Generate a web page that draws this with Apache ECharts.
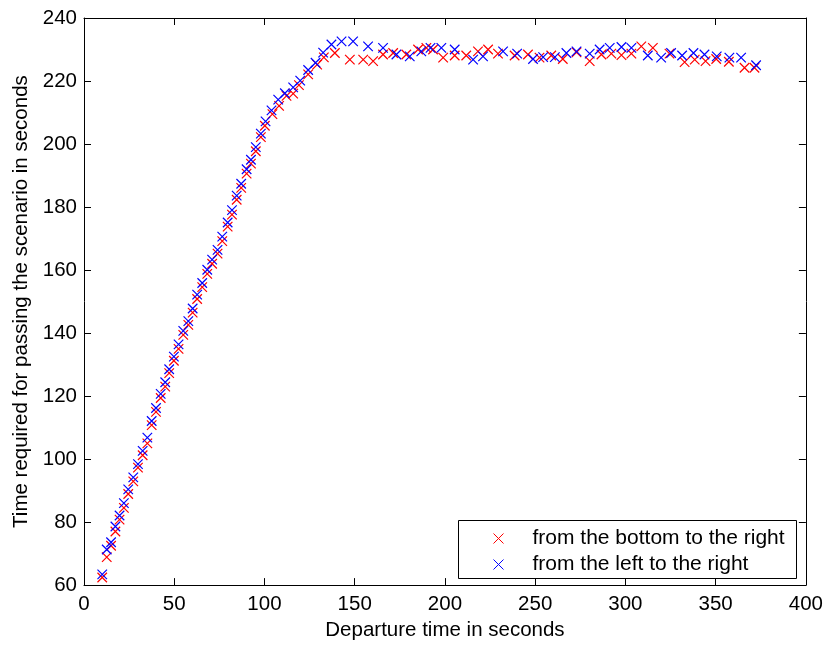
<!DOCTYPE html>
<html>
<head>
<meta charset="utf-8">
<script src="https://cdn.jsdelivr.net/npm/echarts@6/dist/echarts.min.js"></script>
<style>
html,body{margin:0;padding:0;background:#fff;}
#chart{width:826px;height:646px;}
</style>
</head>
<body>
<div id="chart"></div>
<script>
// ---- data ----
const seriesNames = ['from the bottom to the right', 'from the left to the right'];

const redX = [10.1,12.6,15.0,17.4,19.7,22.1,24.5,27.3,29.9,32.5,35.1,37.5,39.9,42.5,45.0,47.2,49.8,52.4,55.0,57.8,
  60.2,62.7,65.5,68.3,71.0,74.0,76.6,79.6,82.0,84.6,87.1,90.1,92.5,95.2,98.0,100.2,104.4,108.1,112.2,115.9,
  119.1,124.2,129.2,132.9,139.0,147.3,154.7,160.2,165.7,171.3,178.6,185.1,189.7,193.4,199.0,205.4,211.8,218.3,223.9,229.4,
  238.6,246.0,252.4,258.9,265.3,272.9,280.2,286.7,292.2,297.8,303.3,308.8,315.2,324.4,332.8,338.4,344.4,350.3,357.3,366.0,371.5];
const redY = [62.4,68.9,72.5,77.0,80.8,84.5,88.9,92.9,97.3,101.2,105.0,110.8,115.0,119.4,123.0,127.3,131.2,135.0,139.4,142.6,
  146.5,150.8,154.6,158.8,162.0,165.2,169.2,173.8,177.6,182.3,186.1,190.6,193.8,197.7,202.2,205.8,209.5,212.1,215.3,216.0,
  218.7,222.1,225.2,227.5,228.9,226.8,226.8,226.3,228.4,228.9,228.4,230.0,230.5,230.0,227.4,228.1,228.1,229.4,230.0,228.7,
  228.1,228.4,227.4,228.1,227.0,229.1,226.3,228.4,228.7,228.2,228.7,231.0,230.5,228.7,226.0,226.8,226.3,227.0,226.1,224.2,224.2];

const blueX = [10.1,12.6,15.0,17.4,19.7,22.1,24.5,27.3,29.9,32.5,35.1,37.5,39.9,42.5,45.0,47.2,49.8,52.4,55.0,57.8,
  60.2,62.7,65.5,68.3,71.0,74.0,76.6,79.6,82.0,84.6,87.1,90.1,92.5,95.2,98.0,100.6,103.9,107.6,111.3,115.9,
  119.8,124.2,128.3,132.5,137.1,142.7,149.1,157.4,165.7,173.1,180.5,186.9,192.0,198.0,205.4,215.6,221.1,232.2,240.0,248.8,
  254.4,260.9,267.3,272.9,280.2,285.7,291.3,297.8,303.3,312.4,319.8,325.3,331.4,337.7,343.8,350.6,357.6,364.1,372.4];
const blueY = [63.4,71.3,73.6,78.6,82.1,86.0,90.4,94.2,98.4,102.6,106.8,112.1,116.2,120.7,124.4,128.5,132.5,136.4,140.7,143.8,
  147.8,152.2,155.9,160.1,163.3,166.4,170.6,175.1,179.0,183.6,187.4,192.0,195.0,199.0,203.3,207.2,210.7,214.1,216.1,218.0,
  220.1,223.5,225.8,229.0,231.6,232.6,232.6,231.0,230.5,228.4,227.8,229.4,230.5,230.5,230.0,226.8,227.8,229.4,228.7,227.0,
  227.6,227.6,228.9,229.4,228.7,230.0,230.5,230.8,230.5,228.1,227.4,228.9,228.1,228.9,228.4,227.8,227.4,227.4,225.0];

const xTicks = {min: 0, max: 400, interval: 50};
const yTicks = {min: 60, max: 240, interval: 20};
const xTitle = 'Departure time in seconds';
const yTitle = 'Time required for passing the scenario in seconds';

// ---- chart ----
const FONT = 'Liberation Sans, Arial, Helvetica, sans-serif';
const FS = 20.5;
const cross = 'path://M0,0L10,10M10,0L0,10';

function pairs(xs, ys){ return xs.map((x,i)=>[x, ys[i]]); }

const chart = echarts.init(document.getElementById('chart'), null, {renderer:'canvas'});

const axisCommon = {
  type: 'value',
  splitLine: {show: false},
  axisLine: {show: true, onZero: false, lineStyle: {color: '#000', width: 1}},
  axisTick: {show: true, inside: true, length: 7, lineStyle: {color: '#000', width: 1}},
};

chart.setOption({
  animation: false,
  backgroundColor: '#fff',
  textStyle: {fontFamily: FONT},
  grid: {left: 84, right: 20, top: 18, bottom: 58, containLabel: false},
  xAxis: [
    Object.assign({}, axisCommon, {
      position: 'bottom', min: xTicks.min, max: xTicks.max, interval: xTicks.interval,
      name: xTitle, nameLocation: 'middle', nameGap: 34,
      nameTextStyle: {color: '#000', fontSize: FS, fontFamily: FONT},
      axisLabel: {color: '#000', fontSize: FS, fontFamily: FONT, margin: 9}
    }),
    Object.assign({}, axisCommon, {
      position: 'top', min: xTicks.min, max: xTicks.max, interval: xTicks.interval,
      axisLabel: {show: false}
    })
  ],
  yAxis: [
    Object.assign({}, axisCommon, {
      position: 'left', min: yTicks.min, max: yTicks.max, interval: yTicks.interval,
      name: yTitle, nameLocation: 'middle', nameGap: 49, nameRotate: 90,
      nameTextStyle: {color: '#000', fontSize: FS, fontFamily: FONT},
      axisLabel: {color: '#000', fontSize: FS, fontFamily: FONT, margin: 7}
    }),
    Object.assign({}, axisCommon, {
      position: 'right', min: yTicks.min, max: yTicks.max, interval: yTicks.interval,
      axisLabel: {show: false}
    })
  ],
  legend: {
    orient: 'vertical',
    left: 493,
    top: 521,
    z: 20,
    padding: [7, 0, 5, 0],
    itemGap: 5,
    itemWidth: 10,
    itemHeight: 10,
    itemStyle: {borderWidth: 1},
    data: seriesNames,
    textStyle: {color: '#000', fontSize: 21, fontFamily: FONT, padding: [0, 0, 0, 24]}
  },
  graphic: {
    elements: [{
      type: 'rect',
      z: 1,
      shape: {x: 458.5, y: 520.5, width: 338, height: 58},
      style: {fill: '#fff', stroke: '#000', lineWidth: 1}
    }]
  },
  series: [
    {
      name: seriesNames[0], type: 'scatter', xAxisIndex: 0, yAxisIndex: 0,
      symbol: cross, symbolSize: 9.5,
      itemStyle: {color: 'rgba(0,0,0,0)', borderColor: '#ff0000', borderWidth: 1.2, opacity: 1},
      data: pairs(redX, redY), z: 2
    },
    {
      name: seriesNames[1], type: 'scatter', xAxisIndex: 0, yAxisIndex: 0,
      symbol: cross, symbolSize: 9.5,
      itemStyle: {color: 'rgba(0,0,0,0)', borderColor: '#0000ff', borderWidth: 1.2, opacity: 1},
      data: pairs(blueX, blueY), z: 3
    }
  ]
});
</script>
</body>
</html>
